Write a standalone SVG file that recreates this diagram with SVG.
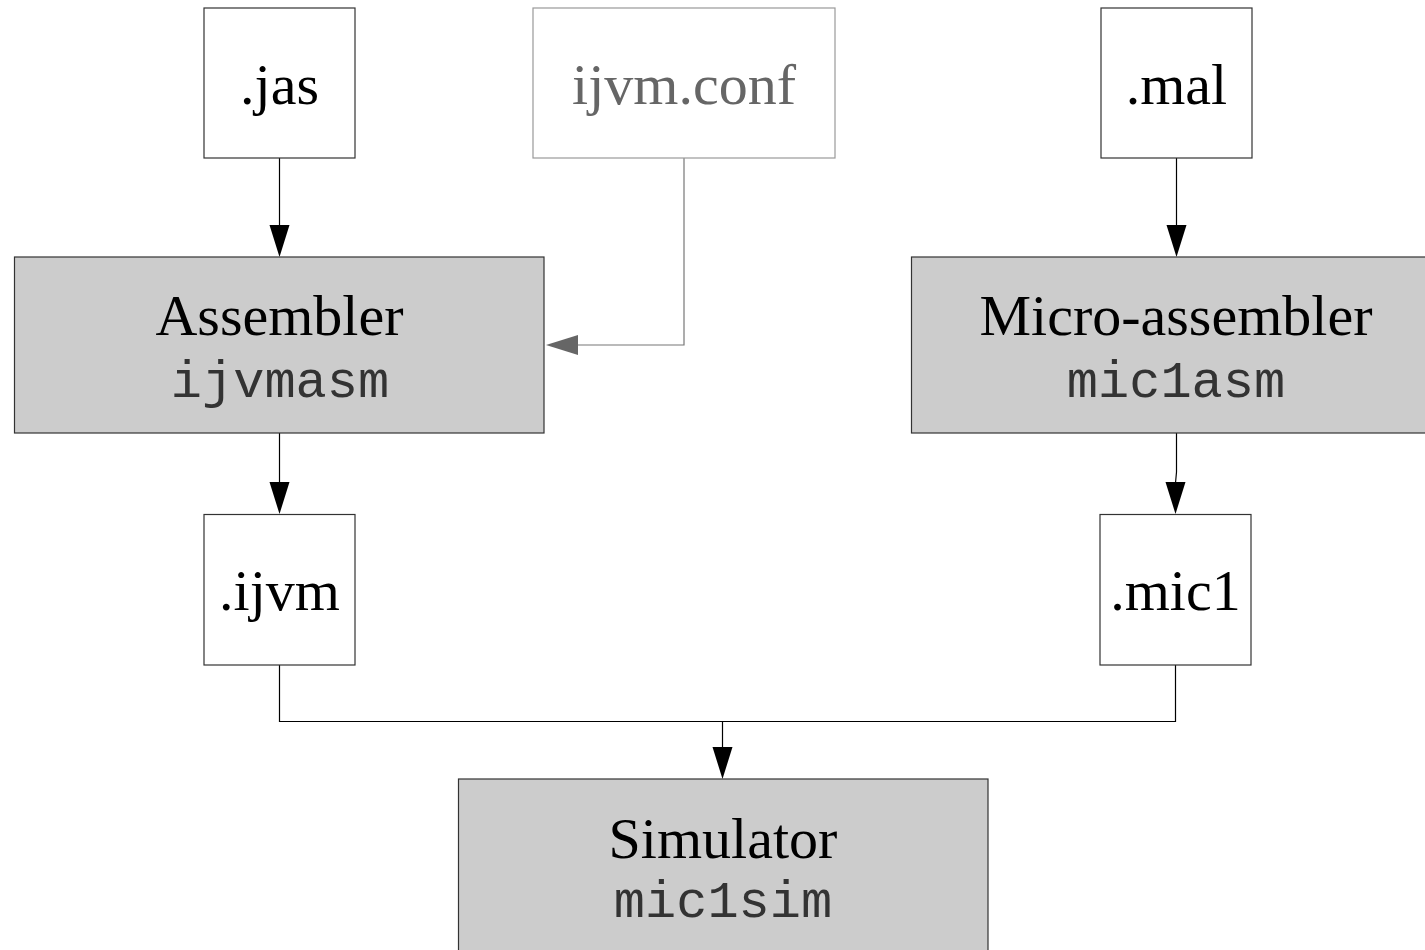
<svg xmlns="http://www.w3.org/2000/svg" width="1425" height="950" viewBox="0 0 1425 950">
<style>
.file{fill:#fff;stroke:#333;stroke-width:1.2}
.tool{fill:#ccc;stroke:#333;stroke-width:1.2}
.conf{fill:#fff;stroke:#999;stroke-width:1.2}
.t{font-family:"Liberation Serif","Times New Roman",serif;font-size:58px;fill:#000;text-anchor:middle}
.g{fill:#666}
.m{font-family:"Liberation Mono","Courier New",monospace;font-size:52px;fill:#333;text-anchor:middle}
.ln{fill:none;stroke:#000;stroke-width:1.2}
.lg{fill:none;stroke:#777;stroke-width:1.2}
</style>
<rect width="1425" height="950" fill="#fff"/>
<g id="connectors">
<line class="ln" x1="279.5" y1="158" x2="279.5" y2="226"/>
<polygon points="269.5,225 289.5,225 279.5,257" fill="#000"/>
<polyline class="lg" points="684,158 684,345 576,345"/>
<polygon points="578,335 578,355 546,345" fill="#666"/>
<line class="ln" x1="1176.5" y1="158" x2="1176.5" y2="226"/>
<polygon points="1166.5,225 1186.5,225 1176.5,257" fill="#000"/>
<line class="ln" x1="279.5" y1="433" x2="279.5" y2="483"/>
<polygon points="269.5,482 289.5,482 279.5,514" fill="#000"/>
<polyline class="ln" points="1176.5,433 1176.5,472 1175.5,483"/>
<polygon points="1165.5,482 1185.5,482 1175.5,514" fill="#000"/>
<polyline class="ln" points="279.5,665 279.5,721.5 1175.5,721.5 1175.5,665"/>
<line class="ln" x1="722.5" y1="721" x2="722.5" y2="748"/>
<polygon points="712.5,747 732.5,747 722.5,779" fill="#000"/>
</g>
<g id="jas">
<rect class="file" x="204" y="8" width="151" height="150"/>
<text class="t" x="279.5" y="104">.jas</text>
</g>
<g id="ijvmconf">
<rect class="conf" x="533" y="8" width="302" height="150"/>
<text class="t g" x="684" y="104">ijvm.conf</text>
</g>
<g id="mal">
<rect class="file" x="1101" y="8" width="151" height="150"/>
<text class="t" x="1176.5" y="104">.mal</text>
</g>
<g id="assembler">
<rect class="tool" x="14.5" y="257" width="529.5" height="176"/>
<text class="t" x="279.5" y="335">Assembler</text>
<text class="m" x="280" y="397">ijvmasm</text>
</g>
<g id="microassembler">
<rect class="tool" x="911.5" y="257" width="530" height="176"/>
<text class="t" x="1176" y="335">Micro-assembler</text>
<text class="m" x="1176" y="397">mic1asm</text>
</g>
<g id="ijvm">
<rect class="file" x="204" y="514.5" width="151" height="150.5"/>
<text class="t" x="279.5" y="610">.ijvm</text>
</g>
<g id="mic1">
<rect class="file" x="1100" y="514.5" width="151" height="150.5"/>
<text class="t" x="1175.5" y="610">.mic1</text>
</g>
<g id="simulator">
<rect class="tool" x="458.5" y="779" width="529.5" height="190"/>
<text class="t" x="723" y="858">Simulator</text>
<text class="m" x="723" y="917">mic1sim</text>
</g>
</svg>
